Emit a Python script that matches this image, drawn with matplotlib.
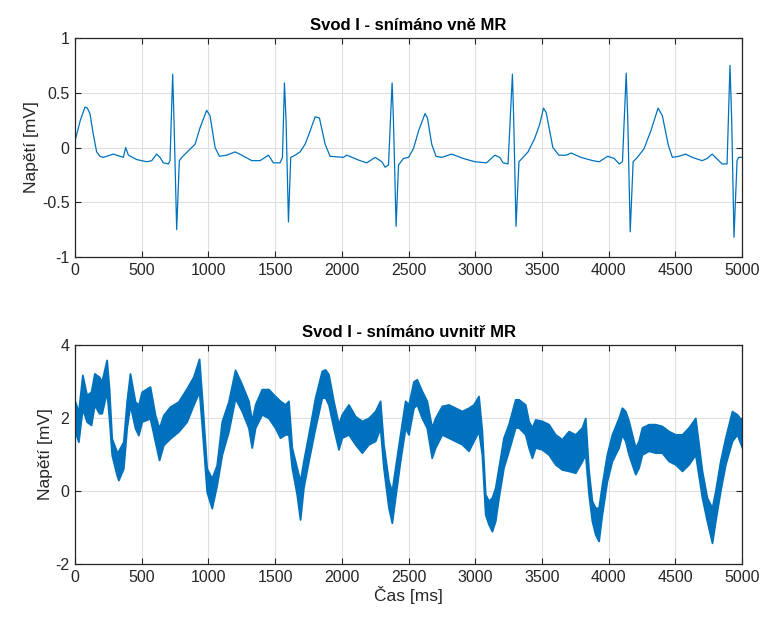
import matplotlib
matplotlib.use("Agg")
import matplotlib.pyplot as plt

# ---- Top: Svod I outside MR ----
t_out = [0, 40, 75, 92, 112, 137, 162, 187, 212, 287, 362, 380, 400, 462, 537, 575, 612, 637, 662, 700, 712,
         732, 742, 762, 782, 800, 825, 875, 900, 937, 987, 1012, 1050, 1082, 1137, 1200, 1250, 1325, 1387, 1450,
         1487, 1537, 1555, 1570, 1582, 1600, 1617, 1650, 1687, 1725, 1762, 1800, 1832, 1875, 1912, 2012, 2037,
         2137, 2187, 2250, 2300, 2325, 2350, 2377, 2387, 2407, 2425, 2462, 2500, 2537, 2575, 2624, 2642, 2674,
         2706, 2749, 2823, 2910, 2998, 3085, 3147, 3184, 3209, 3246, 3279, 3289, 3306, 3328, 3358, 3396, 3445,
         3483, 3512, 3532, 3582, 3627, 3682, 3719, 3793, 3881, 3930, 3993, 4042, 4080, 4104, 4132, 4144, 4162,
         4184, 4216, 4266, 4316, 4371, 4403, 4448, 4478, 4527, 4577, 4627, 4701, 4739, 4776, 4826, 4851, 4888,
         4910, 4923, 4940, 4963, 4975, 5000]
v_out = [0.06, 0.25, 0.37, 0.36, 0.31, 0.12, -0.04, -0.08, -0.09, -0.06, -0.09, 0.0, -0.07, -0.11, -0.13, -0.12,
         -0.06, -0.09, -0.14, -0.15, -0.12, 0.67, 0.25, -0.75, -0.12, -0.09, -0.06, 0.0, 0.03, 0.18, 0.34, 0.29,
         0.0, -0.08, -0.07, -0.04, -0.07, -0.12, -0.12, -0.07, -0.14, -0.14, -0.09, 0.59, 0.25, -0.68, -0.09,
         -0.07, -0.04, 0.03, 0.15, 0.28, 0.27, 0.03, -0.08, -0.09, -0.07, -0.12, -0.14, -0.09, -0.13, -0.18,
         -0.16, 0.59, 0.25, -0.72, -0.16, -0.10, -0.09, -0.01, 0.15, 0.31, 0.27, 0.03, -0.08, -0.09, -0.06,
         -0.10, -0.13, -0.14, -0.07, -0.09, -0.14, -0.15, 0.67, 0.24, -0.72, -0.13, -0.09, -0.04, 0.08, 0.21,
         0.36, 0.32, 0.0, -0.07, -0.07, -0.05, -0.09, -0.12, -0.13, -0.08, -0.10, -0.15, -0.13, 0.68, 0.24,
         -0.77, -0.13, -0.09, -0.01, 0.15, 0.36, 0.29, 0.02, -0.09, -0.08, -0.06, -0.09, -0.12, -0.10, -0.06,
         -0.12, -0.15, -0.15, 0.75, 0.24, -0.82, -0.12, -0.09, -0.09]

# ---- Bottom: Svod I inside MR, noisy band envelope (upper / lower) ----
t_in = [0, 25, 55, 87, 120, 145, 180, 200, 237, 255, 275, 312, 325, 362, 387, 412, 450, 475, 500, 562,
        600, 630, 662, 712, 775, 837, 887, 930, 950, 987, 1025, 1062, 1100, 1150, 1200, 1250,
        1300, 1325, 1350, 1400, 1450, 1500, 1537, 1575, 1600, 1625, 1662, 1687, 1712, 1750, 1800, 1850,
        1875, 1900, 1937, 1975, 2000, 2050, 2100, 2150, 2200, 2250, 2287, 2312, 2350, 2375, 2400, 2437, 2475,
        2500, 2537, 2562, 2600, 2637, 2674, 2700, 2750, 2800, 2850, 2900, 2950, 2987, 3025, 3050, 3075, 3100,
        3125, 3150, 3175, 3212, 3250, 3300, 3325, 3375, 3400, 3425, 3450, 3500, 3550, 3600, 3650, 3700, 3750,
        3800, 3825, 3850, 3875, 3900, 3925, 3950, 3987, 4025, 4075, 4100, 4125, 4150, 4200, 4225, 4250, 4300,
        4350, 4400, 4450, 4500, 4550, 4600, 4650, 4700, 4737, 4775, 4800, 4837, 4875, 4925, 4962, 5000]
up_in = [2.45, 2.17, 3.18, 2.63, 2.72, 3.22, 3.13, 3.0, 3.59, 2.81, 1.44, 1.08, 1.1, 1.35, 2.45, 3.22, 2.45,
         2.36, 2.72, 2.86, 2.08, 1.72, 2.08, 2.31, 2.45, 2.81, 3.13, 3.62, 2.63, 0.62, 0.35, 0.71, 1.9, 2.45,
         3.32, 2.92,
         2.47, 1.92, 2.37, 2.79, 2.79, 2.6, 2.47, 2.37, 2.47, 1.19, 0.64,
         0.27, 0.82, 1.55, 2.56, 3.29, 3.33, 3.2, 2.47, 1.83, 2.1, 2.37, 2.05, 1.92, 2.0, 2.19, 2.47, 1.28, 0.27,
         0.0, 0.64, 1.55, 2.47, 2.37, 3.0, 3.06, 2.74, 2.47, 1.74, 2.0, 2.33, 2.37, 2.28, 2.19, 2.28, 2.37, 2.6,
         1.64, -0.09, -0.27, -0.18, 0.09, 0.64, 1.46, 1.83, 2.51, 2.51, 2.37, 1.92, 1.74, 1.96, 1.92, 1.83, 1.55,
         1.42, 1.64, 1.55, 1.74, 2.0, 0.55, -0.27, -0.46, -0.46, 0.18, 1.0, 1.55, 2.0, 2.28, 2.19, 1.92, 1.19,
         1.37, 1.74, 1.83, 1.83, 1.78, 1.64, 1.55, 1.55, 1.74, 2.0, 0.55, -0.18, -0.46, 0.0, 0.82, 1.46, 2.19,
         2.1, 1.92]
lo_in = [1.63, 1.35, 2.26, 1.9, 1.81, 2.36, 2.13, 2.13, 2.72, 1.99, 0.99, 0.44, 0.30, 0.62, 1.72, 2.36, 1.72,
         1.53, 1.9, 1.99, 1.35, 0.85, 1.26, 1.44, 1.63, 1.9, 2.36, 2.72, 1.81, -0.02, -0.47, 0.16, 0.99, 1.63,
         2.54, 2.19,
         1.73, 1.19, 1.73, 2.1, 2.0, 1.73, 1.46, 1.55, 1.55, 0.64,
         -0.09, -0.78, 0.09, 0.82, 1.73, 2.56, 2.56, 2.37, 1.73, 1.14, 1.46, 1.55, 1.28, 1.05, 1.28, 1.37, 1.73,
         0.64, -0.46, -0.87, -0.18, 0.82, 1.73, 1.55, 2.28, 2.37, 2.0, 1.73, 0.91, 1.19, 1.55, 1.46, 1.37, 1.28,
         1.1, 1.37, 1.64, 1.0, -0.64, -0.91, -1.1, -0.82, -0.18, 0.64, 1.1, 1.74, 1.74, 1.55, 1.19, 0.91, 1.19,
         1.14, 1.0, 0.73, 0.59, 0.55, 0.5, 0.82, 1.0, -0.09, -0.82, -1.19, -1.37, -0.64, 0.27, 0.82, 1.19, 1.55,
         1.37, 1.0, 0.46, 0.64, 1.0, 1.1, 1.05, 1.05, 0.82, 0.73, 0.55, 0.73, 1.0, -0.18, -0.82, -1.42, -0.82,
         0.0, 0.73, 1.37, 1.55, 1.19]

x_ticks = [0, 500, 1000, 1500, 2000, 2500, 3000, 3500, 4000, 4500, 5000]
y_ticks_top = [-1, -0.5, 0, 0.5, 1]
y_ticks_bot = [-2, 0, 2, 4]

title_top = "Svod I - snímáno vně MR"
title_bot = "Svod I - snímáno uvnitř MR"
ylabel = "Napětí [mV]"
xlabel = "Čas [ms]"

plt.rcParams['font.family'] = ['Liberation Sans', 'DejaVu Sans']
BLUE = "#0072BD"
AX = "#262626"

fig = plt.figure(figsize=(7.64, 6.18), dpi=100)
ax1 = fig.add_axes([0.0982, 0.5841, 0.873, 0.3544])
ax2 = fig.add_axes([0.0982, 0.0874, 0.873, 0.3544])

ax1.plot(t_out, v_out, color=BLUE, lw=0.9)
ax2.fill_between(t_in, lo_in, up_in, color=BLUE, lw=1.3, edgecolor=BLUE)

def style(ax, yt, ylim, ytl):
    ax.set_xlim(0, 5000)
    ax.set_ylim(*ylim)
    ax.set_xticks(x_ticks)
    ax.set_yticks(yt)
    ax.set_yticklabels(ytl)
    ax.grid(True, color="#dfdfdf", lw=0.8)
    ax.set_axisbelow(True)
    ax.tick_params(direction='in', top=True, right=True, length=4, width=0.8,
                   colors=AX, labelsize=11.5, pad=4)
    for s in ax.spines.values():
        s.set_color(AX)
        s.set_linewidth(0.9)
    ax.set_ylabel(ylabel, fontsize=12.5, color=AX, labelpad=2)

style(ax1, y_ticks_top, (-1, 1), ["-1", "-0.5", "0", "0.5", "1"])
style(ax2, y_ticks_bot, (-2, 4), ["-2", "0", "2", "4"])
ax1.set_title(title_top, fontsize=12, fontweight='bold', color='black', pad=6)
ax2.set_title(title_bot, fontsize=12, fontweight='bold', color='black', pad=6)
ax2.set_xlabel(xlabel, fontsize=12.5, color=AX, labelpad=1)

fig.savefig("out.png", dpi=100)
